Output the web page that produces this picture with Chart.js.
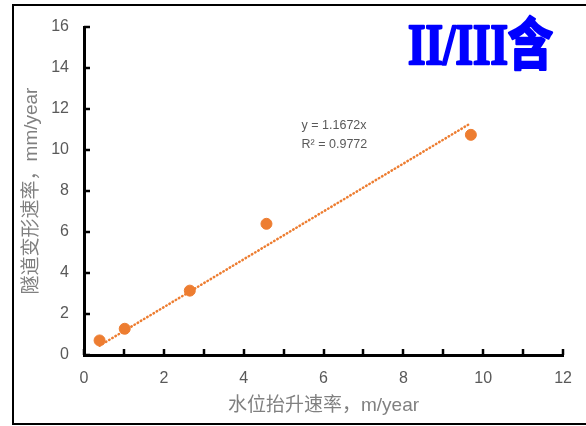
<!DOCTYPE html>
<html>
<head>
<meta charset="utf-8">
<script src="https://cdn.jsdelivr.net/npm/chart.js@4"></script>
<style>
  html, body { margin: 0; padding: 0; background: #fff; }
  #wrap { width: 586px; height: 426px; }
</style>
</head>
<body>
<div id="wrap"><canvas id="scatter" width="586" height="426"></canvas></div>
<script>
// Measured points (water level rise rate vs tunnel deformation rate)
const riseRate = [0.39, 1.02, 2.65, 4.57, 9.69];
const deformRate = [0.71, 1.28, 3.14, 6.40, 10.74];

// Linear trendline through origin, as labelled on the chart
const trendSlope = 1.1672;
const trendLabel = ['y = 1.1672x', 'R\u00b2 = 0.9772'];

// Axis ranges
const xRange = [0, 12];
const yRange = [0, 16];
const labelStep = 2;

const chartTitle = 'II/III含';
const xTitle = '水位抬升速率，m/year';
const yTitle = '隧道变形速率，mm/year';

const orange = '#ED7D31';
const latin = '"Liberation Sans", Arial, "Noto Sans CJK SC", sans-serif';
const cjk = '"Liberation Sans", "Noto Sans CJK SC", sans-serif';

const points = riseRate.map((x, i) => ({ x: x, y: deformRate[i] }));
const xMin = Math.min(...riseRate);
const xMax = Math.max(...riseRate);
const trendPoints = [
    { x: xMin, y: trendSlope * xMin },
    { x: xMax, y: trendSlope * xMax }
];

// Excel style inward tick marks, frame and labels
const decorations = {
    id: 'decorations',
    afterDraw(chart) {
        const ctx = chart.ctx;
        const xs = chart.scales.x;
        const ys = chart.scales.y;
        const area = chart.chartArea;
        ctx.save();

        // tick marks pointing into the plot
        ctx.strokeStyle = '#000';
        ctx.lineWidth = 2.5;
        xs.ticks.forEach(t => {
            const px = Math.round(xs.getPixelForValue(t.value));
            ctx.beginPath();
            ctx.moveTo(px, area.bottom);
            ctx.lineTo(px, area.bottom - 6);
            ctx.stroke();
        });
        ys.ticks.forEach(t => {
            const py = Math.round(ys.getPixelForValue(t.value));
            ctx.beginPath();
            ctx.moveTo(area.left, py);
            ctx.lineTo(area.left + 6, py);
            ctx.stroke();
        });

        // outer frame (left, top, bottom)
        ctx.lineWidth = 2;
        ctx.beginPath();
        ctx.moveTo(586, 5);
        ctx.lineTo(13, 5);
        ctx.lineTo(13, 424);
        ctx.lineTo(586, 424);
        ctx.stroke();

        // trendline equation
        ctx.fillStyle = '#595959';
        ctx.font = '12.5px ' + latin;
        ctx.textAlign = 'left';
        ctx.textBaseline = 'middle';
        const lx = xs.getPixelForValue(5.45);
        const ly = ys.getPixelForValue(11.2);
        ctx.fillText(trendLabel[0], lx, ly, 74);
        ctx.fillText(trendLabel[1], lx, ly + 19, 74);

        // big blue title
        ctx.fillStyle = '#0000FF';
        ctx.strokeStyle = '#0000FF';
        ctx.lineWidth = 2.5;
        ctx.lineJoin = 'round';
        ctx.font = 'bold 56px "Liberation Serif", "Noto Sans CJK SC", serif';
        ctx.textAlign = 'left';
        ctx.textBaseline = 'alphabetic';
        ctx.fillText(chartTitle, 408, 64, 145);
        ctx.strokeText(chartTitle, 408, 64, 145);
        ctx.restore();
    }
};

const chartdata = {
    datasets: [
        {
            label: 'trend',
            data: trendPoints,
            showLine: true,
            borderColor: orange,
            borderWidth: 2.5,
            borderDash: [0.5, 3.2],
            borderCapStyle: 'round',
            pointRadius: 0,
            fill: false
        },
        {
            label: 'data',
            data: points,
            backgroundColor: orange,
            borderColor: orange,
            pointRadius: 5.5,
            pointHoverRadius: 5.5
        }
    ]
};

const chartconfig = {
    type: 'scatter',
    data: chartdata,
    options: {
        responsive: false,
        animation: false,
        layout: { padding: { top: 27, right: 22, left: 0, bottom: 0 } },
        plugins: {
            legend: { display: false },
            tooltip: { enabled: false },
            title: { display: false }
        },
        scales: {
            x: {
                type: 'linear',
                min: xRange[0],
                max: xRange[1],
                afterFit: scale => { scale.height = 71; },
                grid: { display: false, drawTicks: false },
                border: { display: true, color: '#000', width: 3 },
                ticks: {
                    stepSize: 1,
                    padding: 14,
                    color: '#595959',
                    font: { family: latin, size: 16 },
                    callback: v => (v % labelStep === 0 ? v : '')
                },
                title: {
                    display: true,
                    text: xTitle,
                    color: '#808080',
                    font: { family: cjk, size: 19 },
                    padding: { top: 0, bottom: 9 }
                }
            },
            y: {
                type: 'linear',
                min: yRange[0],
                max: yRange[1],
                afterFit: scale => { scale.width = 84; },
                grid: { display: false, drawTicks: false },
                border: { display: true, color: '#000', width: 3 },
                ticks: {
                    stepSize: 1,
                    padding: 15,
                    color: '#595959',
                    font: { family: latin, size: 16 },
                    callback: v => (v % labelStep === 0 ? v : '')
                },
                title: {
                    display: true,
                    text: yTitle,
                    color: '#808080',
                    font: { family: cjk, size: 19 },
                    padding: { top: 20, bottom: 0 }
                }
            }
        }
    },
    plugins: [decorations]
};

const canvas = document.getElementById('scatter');
if (canvas) {
    const chart = new Chart(canvas, chartconfig);
} else {
    console.error('Canvas element with ID "scatter" not found');
}
</script>
</body>
</html>
